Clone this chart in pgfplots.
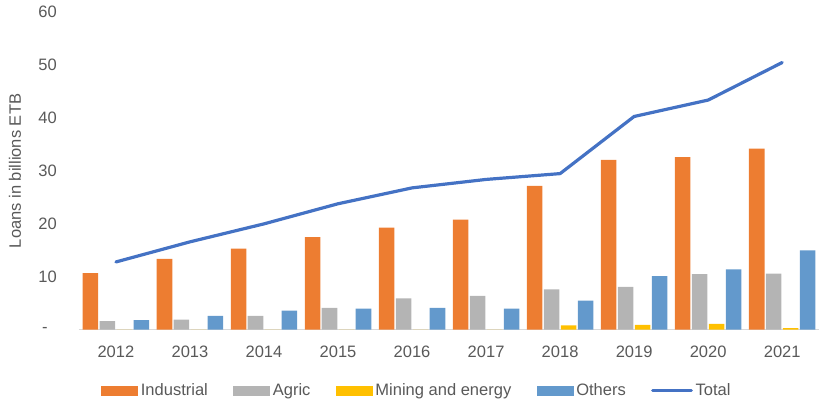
\documentclass[border=0pt]{standalone}
\usepackage{fontspec}
\setmainfont{Liberation Sans}
\usepackage{pgfplots}
\pgfplotsset{compat=1.18}
\definecolor{ind}{HTML}{ED7D31}
\definecolor{agr}{HTML}{B4B4B4}
\definecolor{mng}{HTML}{FFC000}
\definecolor{oth}{HTML}{6399CC}
\definecolor{tot}{HTML}{4472C4}
\definecolor{txt}{HTML}{595959}
\definecolor{axg}{HTML}{D9D9D9}
\begin{document}
\begin{tikzpicture}[font=\fontsize{12.4pt}{14.5pt}\selectfont]
\begin{axis}[
  scale only axis, width=555.75pt, height=238.3pt,
  xmin=2011.5, xmax=2021.5, ymin=0, ymax=60,
  axis x line*=bottom, axis y line*=left,
  x axis line style={-, draw=axg, line width=1.2pt},
  y axis line style={draw=none},
  xtick={2012,2013,2014,2015,2016,2017,2018,2019,2020,2021},
  xticklabels={2012,2013,2014,2015,2016,2017,2018,2019,2020,2021},
  ytick={0,10,20,30,40,50,60},
  yticklabels={-\hphantom{0},10,20,30,40,50,60},
  major tick length=0pt, tick style={draw=none},
  xticklabel style={yshift=-8.6pt, text=txt},
  yticklabel style={xshift=-13.1pt, text=txt},
  ylabel={Loans in billions ETB},
  ylabel style={at={(axis description cs:-0.0864,0.5)}, anchor=center, text=txt},
  legend columns=5,
  legend style={at={(0.457,-0.192)}, anchor=center, draw=none, text=txt,
    /tikz/every even column/.append style={column sep=17pt}},
  clip=false,
]
\addplot[ybar, fill=ind, draw=none, bar width=0.21, bar shift=-0.344,
  legend image code/.code={\fill[ind] (0pt,-3.75pt) rectangle (27.75pt,3.75pt);}]
  coordinates {(2012,10.7)(2013,13.4)(2014,15.3)(2015,17.5)(2016,19.3)(2017,20.8)(2018,27.2)(2019,32.1)(2020,32.6)(2021,34.2)};
\addlegendentry{Industrial}
\addplot[ybar, fill=agr, draw=none, bar width=0.21, bar shift=-0.115,
  legend image code/.code={\fill[agr] (0pt,-3.75pt) rectangle (27.75pt,3.75pt);}]
  coordinates {(2012,1.6)(2013,1.9)(2014,2.6)(2015,4.1)(2016,5.9)(2017,6.4)(2018,7.6)(2019,8.1)(2020,10.5)(2021,10.6)};
\addlegendentry{Agric}
\addplot[ybar, fill=mng, draw=none, bar width=0.21, bar shift=0.115,
  legend image code/.code={\fill[mng] (0pt,-3.75pt) rectangle (27.75pt,3.75pt);}]
  coordinates {(2012,0)(2013,0)(2014,0)(2015,0)(2016,0)(2017,0)(2018,0.8)(2019,0.9)(2020,1.1)(2021,0.3)};
\addlegendentry{Mining and energy}
\addplot[ybar, fill=oth, draw=none, bar width=0.21, bar shift=0.344,
  legend image code/.code={\fill[oth] (0pt,-3.75pt) rectangle (27.75pt,3.75pt);}]
  coordinates {(2012,1.8)(2013,2.6)(2014,3.6)(2015,4.0)(2016,4.1)(2017,4.0)(2018,5.5)(2019,10.1)(2020,11.4)(2021,15.0)};
\addlegendentry{Others}
\addplot[sharp plot, draw=tot, line width=2.4pt, mark=none, line cap=round,
  legend image code/.code={\draw[tot, line width=2.4pt, line cap=round] (0pt,0pt) -- (29pt,0pt);}]
  coordinates {(2012,12.8)(2013,16.6)(2014,20.0)(2015,23.8)(2016,26.8)(2017,28.4)(2018,29.5)(2019,40.3)(2020,43.4)(2021,50.5)};
\addlegendentry{Total}
\end{axis}
\path ([xshift=-59.25pt,yshift=-54.75pt]current axis.south west) rectangle ([yshift=9.2pt]current axis.north east);
\end{tikzpicture}
\end{document}
